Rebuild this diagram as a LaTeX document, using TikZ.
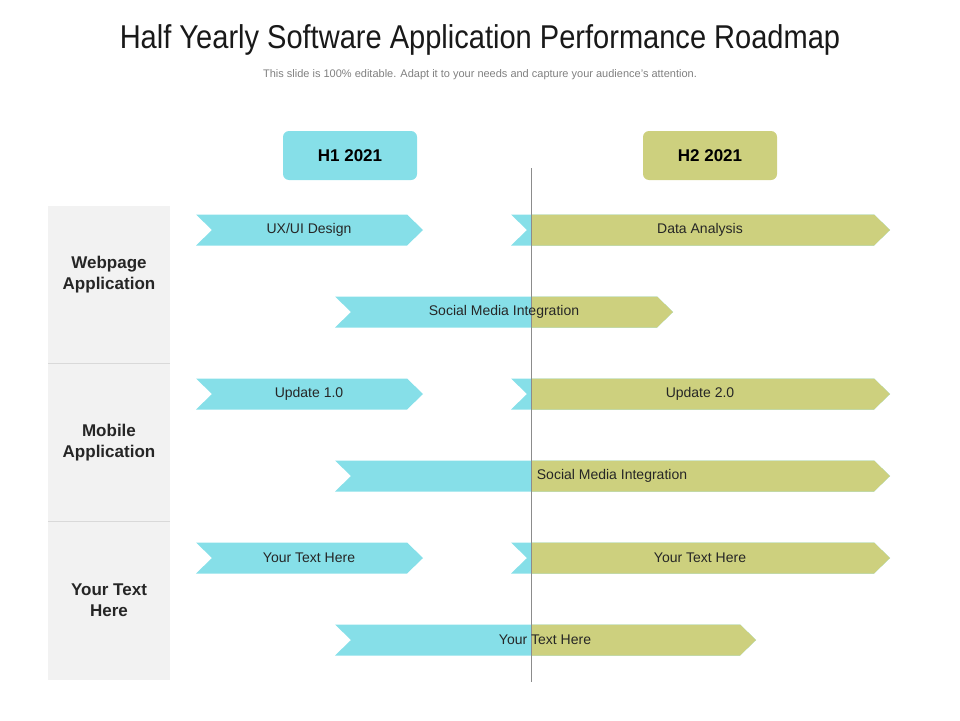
\documentclass[tikz,border=0pt]{standalone}
\usepackage{fontspec}
\setmainfont{Liberation Sans}
\definecolor{cyanfill}{HTML}{86DFE8}
\definecolor{olivefill}{HTML}{CDD07E}
\definecolor{sidegray}{HTML}{F2F2F2}
\tikzset{
  headbox/.style={rounded corners=6pt, minimum width=134pt, minimum height=49pt, font=\fontsize{17}{20}\selectfont\bfseries},
  barlabel/.style={font=\fontsize{14}{16}\selectfont, text=black!85},
  sidelabel/.style={font=\fontsize{17}{21}\selectfont\bfseries, align=center, text=black!85}
}
% chevron from x1 to x2 at height y, split in colour at x=531
\newcommand{\chev}[4]{%
  \path[fill=cyanfill] (#1,#3-15.5) -- (#2-16,#3-15.5) -- (#2,#3) -- (#2-16,#3+15.5)
    -- (#1,#3+15.5) -- (#1+16,#3) -- cycle;
  \begin{scope}
    \clip (531,#3-20) rectangle (960,#3+20);
    \path[fill=olivefill] (#1,#3-15.5) -- (#2-16,#3-15.5) -- (#2,#3) -- (#2-16,#3+15.5)
      -- (#1,#3+15.5) -- (#1+16,#3) -- cycle;
  \end{scope}
}
\begin{document}
\begin{tikzpicture}[x=1pt,y=-1pt]
  \useasboundingbox (0,0) rectangle (960,720);
  \node[font=\fontsize{33}{36}\selectfont, text=black!90] (title) at (480,40)
    {\addfontfeature{FakeStretch=0.88}Half Yearly Software Application Performance Roadmap};
  \node[font=\fontsize{11}{13}\selectfont, text=black!50] (subtitle) at (480,75)
    {This slide is 100\% editable. Adapt it to your needs and capture your audience's attention.};

  \node[headbox, fill=cyanfill] (h1) at (350,155.5) {H1 2021};
  \node[headbox, fill=olivefill] (h2) at (710,155.5) {H2 2021};

  % side column
  \fill[sidegray] (48,206) rectangle (170,680);
  \draw[black!15, line width=1pt] (48,363) -- (170,363);
  \draw[black!15, line width=1pt] (48,521) -- (170,521);
  \node[sidelabel] (web) at (109,275) {Webpage\\Application};
  \node[sidelabel] (mob) at (109,443) {Mobile\\Application};
  \node[sidelabel] (oth) at (109,600) {Your Text\\Here};

  % bars
  \chev{196}{423}{230}{}
  \chev{511}{890}{230}{}
  \chev{335}{673}{312}{}
  \chev{196}{423}{394}{}
  \chev{511}{890}{394}{}
  \chev{335}{890}{476}{}
  \chev{196}{423}{558}{}
  \chev{511}{890}{558}{}
  \chev{335}{756}{640}{}

  \coordinate (top) at (531,168);
  \coordinate (bottom) at (531,682);
  \draw[black!45, line width=0.8pt] (top) -- (bottom);

  \node[barlabel] (b1) at (309,230) {UX/UI Design};
  \node[barlabel] (b2) at (700,230) {Data Analysis};
  \node[barlabel] (b3) at (504,312) {Social Media Integration};
  \node[barlabel] (b4) at (309,394) {Update 1.0};
  \node[barlabel] (b5) at (700,394) {Update 2.0};
  \node[barlabel] (b6) at (612,476) {Social Media Integration};
  \node[barlabel] (b7) at (309,558) {Your Text Here};
  \node[barlabel] (b8) at (700,558) {Your Text Here};
  \node[barlabel] (b9) at (545,640) {Your Text Here};
\end{tikzpicture}
\end{document}
